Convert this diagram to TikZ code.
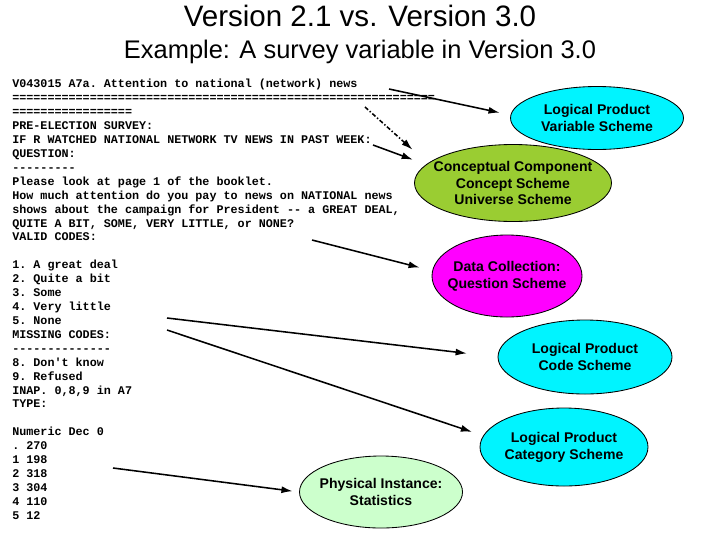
\documentclass[tikz,border=0pt]{standalone}
\usepackage{fontspec}
\setmainfont{Liberation Sans}
\setmonofont{Liberation Mono}
\usepackage{xcolor}
\usepackage{tikz}
\usetikzlibrary{shapes.geometric, arrows.meta, positioning, calc}
\definecolor{lpcyan}{HTML}{00F4FF}
\definecolor{conceptgreen}{HTML}{9ACD32}
\definecolor{dcmagenta}{HTML}{FF00FF}
\definecolor{statgreen}{HTML}{CCFFCC}
\newcommand{\pxu}{0.025cm}
\tikzset{
%     shapes
    scheme/.style={draw, ellipse, line width=0.6pt, inner sep=0pt},
    schemetext/.style={align=center, inner sep=0pt, font=\bfseries\fontsize{10}{12}\selectfont},
    codetext/.style={align=left, inner sep=0pt, anchor=north west, font=\ttfamily\bfseries\fontsize{8.35}{9.9}\selectfont},
%     connectors
    arrow/.style={-{Latex[length=8pt, width=5pt]}, line width=1.1pt},
    dasharrow/.style={arrow, dash pattern=on 3pt off 1.5pt on 1pt off 1.5pt},
}

\begin{document}
\begin{tikzpicture}[x=\pxu, y=-\pxu]
        \useasboundingbox (0,0) rectangle (720,540);
        % Titles
        \node (title) [font=\fontsize{21}{25}\selectfont] at (360,16) {Version 2.1 vs. Version 3.0};
        \node (subtitle) [font=\fontsize{18.1}{21}\selectfont] at (360,52) {Example: A survey variable in Version 3.0};
        % Codebook entry
        \begin{scope}
        \clip (0,60) rectangle (440,519);
        \node (codebook) [codetext] at (12,79) {V043015 A7a. Attention to national (network) news\\
============================================================\\
=================\\
PRE-ELECTION SURVEY:\\
IF R WATCHED NATIONAL NETWORK TV NEWS IN PAST WEEK:\\
QUESTION:\\
---------\\
Please look at page 1 of the booklet.\\
How much attention do you pay to news on NATIONAL news\\
shows about the campaign for President -- a GREAT DEAL,\\
QUITE A BIT, SOME, VERY LITTLE, or NONE?\\
VALID CODES:\\
~\\
1. A great deal\\
2. Quite a bit\\
3. Some\\
4. Very little\\
5. None\\
MISSING CODES:\\
--------------\\
8. Don't know\\
9. Refused\\
INAP. 0,8,9 in A7\\
TYPE:\\
~\\
Numeric Dec 0\\
. 270\\
1 198\\
2 318\\
3 304\\
4 110\\
5 12};
        \end{scope}
        % Schemes
        \node (lpvar) [scheme, fill=lpcyan, minimum width=173*\pxu, minimum height=63*\pxu] at (597,118) {};
        \node (lpvartext) [schemetext] at (lpvar.center) {Logical Product\\Variable Scheme};
        \node (ccs) [scheme, fill=conceptgreen, minimum width=197*\pxu, minimum height=77*\pxu] at (513,183) {};
        \node (ccstext) [schemetext] at (ccs.center) {Conceptual Component\\Concept Scheme\\Universe Scheme};
        \node (dc) [scheme, fill=dcmagenta, minimum width=150*\pxu, minimum height=82*\pxu] at (507,276) {};
        \node (dctext) [schemetext] at (dc.center) {Data Collection:\\Question Scheme};
        \node (lpcode) [scheme, fill=lpcyan, minimum width=174*\pxu, minimum height=74*\pxu] at (585,357) {};
        \node (lpcodetext) [schemetext] at (lpcode.center) {Logical Product\\Code Scheme};
        \node (lpcat) [scheme, fill=lpcyan, minimum width=168*\pxu, minimum height=78*\pxu] at (564,447) {};
        \node (lpcattext) [schemetext] at (lpcat.center) {Logical Product\\Category Scheme};
        \node (stats) [scheme, fill=statgreen, minimum width=163*\pxu, minimum height=72*\pxu] at (381,492) {};
        \node (statstext) [schemetext] at (stats.center) {Physical Instance:\\Statistics};
        % Arrow tails
        \coordinate (fromname) at (389,89);
        \coordinate (fromequals) at (365,107);
        \coordinate (fromfilter) at (373,145);
        \coordinate (fromquestion) at (312,240);
        \coordinate (fromcodes) at (167,318);
        \coordinate (fromlabels) at (167,330);
        \coordinate (fromfreq) at (113,468);
        % links
        \draw[arrow, shorten >= 7.8pt] (fromname) -- (lpvar.178);
        \draw[dasharrow, shorten >= 14.5pt] (fromequals) -- (ccs.167);
        \draw[arrow, shorten >= 9.9pt] (fromfilter) -- (ccs.168);
        \draw[arrow, shorten >= 9.1pt] (fromquestion) -- (dc.176);
        \draw[arrow, shorten >= 22pt] (fromcodes) -- (lpcode.west);
        \draw[arrow, shorten >= 8.3pt] (fromlabels) -- (lpcat.172);
        \draw[arrow, shorten >= 4.6pt] (fromfreq) -- (stats.west);
    \end{tikzpicture}
\end{document}
